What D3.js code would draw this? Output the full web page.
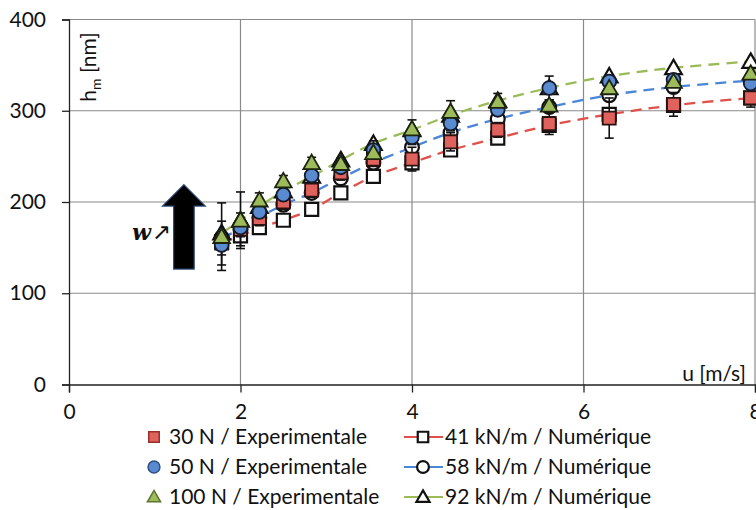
<!DOCTYPE html>
<html>
<head>
<meta charset="utf-8">
<script src="https://cdn.jsdelivr.net/npm/d3@7"></script>
<style>
  html, body { margin: 0; padding: 0; background: #fff; }
  svg { display: block; }
  text { font-family: Lato, "Open Sans", sans-serif; fill: #111; }
</style>
</head>
<body>
<svg id="chart" width="756" height="510"></svg>
<script>
// ---------- data ----------
const uVals   = [1.78, 2.0, 2.22, 2.5, 2.83, 3.17, 3.55, 4.0, 4.45, 5.0, 5.6, 6.3, 7.05, 7.95];

const exp30   = [155, 170, 182, 200, 213, 232, 247, 247, 266, 279, 286, 292, 307, 314];
const err30   = [24, 18, 8, 8, 8, 8, 8, 13, 10, 8, 12, 22, 13, 10];
const exp50   = [153, 172, 189, 208, 229, 238, 257, 271, 286, 301, 325, 332, 334, 330];
const err50   = [11, 10, 6, 6, 6, 6, 6, 8, 8, 6, 13, 6, 6, 6];
const exp100  = [162, 180, 202, 223, 243, 242, 254, 280, 299, 310, 306, 325, 332, 341];
const err100  = [37, 31, 8, 6, 6, 6, 13, 10, 12, 9, 6, 6, 6, 6];

const num41   = [156, 163, 172, 180, 192, 210, 228, 243, 257, 270, 284, 296, 306, 314];
const num58   = [161, 170, 183, 197, 210, 226, 243, 260, 276, 291, 304, 317, 326, 333];
const num92   = [166, 180, 195, 212, 228, 246, 264, 279, 295, 311, 325, 338, 347, 354];

const xTicks  = [0, 2, 4, 6, 8];
const yTicks  = [0, 100, 200, 300, 400];

const expLabels = ["30 N / Experimentale", "50 N / Experimentale", "100 N / Experimentale"];
const numLabels = ["41 kN/m / Numérique", "58 kN/m / Numérique", "92 kN/m / Numérique"];

// ---------- setup ----------
const FS = 21;
const svg = d3.select("#chart");
const x = d3.scaleLinear().domain([0, 8]).range([69, 755]);
const y = d3.scaleLinear().domain([0, 400]).range([384.5, 19.5]);

const colors = {
  red:   { fill: "#E0625D", stroke: "#2a1212", line: "#E0504A", legendStroke: "#9b2f2b" },
  blue:  { fill: "#5A8AD0", stroke: "#141c2c", line: "#4A86D8", legendStroke: "#2d4f82" },
  green: { fill: "#9DBB5A", stroke: "#1c2410", line: "#9BBB59", legendStroke: "#5c7430" }
};

const symSquare = d3.symbol().type(d3.symbolSquare).size(170);
const symCircle = d3.symbol().type(d3.symbolCircle).size(150);
const symTri    = d3.symbol().type(d3.symbolTriangle).size(120);

// ---------- gridlines ----------
const grid = svg.append("g");
grid.selectAll("line.h").data(yTicks.filter(d => d > 0)).join("line")
  .attr("x1", x(0)).attr("x2", x(8))
  .attr("y1", d => y(d)).attr("y2", d => y(d))
  .attr("stroke", "#8a8a8a").attr("stroke-width", 1.2);
grid.selectAll("line.v").data(xTicks.filter(d => d > 0)).join("line")
  .attr("x1", d => x(d)).attr("x2", d => x(d))
  .attr("y1", y(0)).attr("y2", y(400))
  .attr("stroke", "#8a8a8a").attr("stroke-width", 1.2);

// ---------- axes ----------
const xAxis = svg.append("g").attr("transform", `translate(0,${y(0)})`)
  .call(d3.axisBottom(x).tickValues(xTicks).tickSize(8).tickPadding(12).tickFormat(d3.format("d")));
const yAxis = svg.append("g").attr("transform", `translate(${x(0)},0)`)
  .call(d3.axisLeft(y).tickValues(yTicks).tickSize(7).tickPadding(16).tickFormat(d3.format("d")));
[xAxis, yAxis].forEach(a => {
  a.select(".domain").attr("stroke", "#222").attr("stroke-width", 1.3);
  a.selectAll(".tick line").attr("stroke", "#222").attr("stroke-width", 1.3);
  a.selectAll(".tick text").attr("font-size", FS).attr("font-family", "Lato, sans-serif").attr("fill", "#111");
});

// axis titles
svg.append("text").attr("x", 746).attr("y", 381).attr("text-anchor", "end")
  .attr("font-size", FS).text("u [m/s]");
const yt = svg.append("text").attr("transform", `translate(96,67) rotate(-90)`)
  .attr("text-anchor", "middle").attr("font-size", FS);
yt.append("tspan").text("h");
yt.append("tspan").attr("font-size", 14).attr("dy", 5).text("m");
yt.append("tspan").attr("dy", -5).text(" [nm]");

// ---------- arrow annotation ----------
const au = 1.34, aw = 0.12, hw = 0.25;
const arrowPts = [
  [au, 219], [au + hw, 195.5], [au + aw, 195.5], [au + aw, 126.5],
  [au - aw, 126.5], [au - aw, 195.5], [au - hw, 195.5]
];
svg.append("path")
  .attr("d", d3.line().x(d => x(d[0])).y(d => y(d[1]))(arrowPts) + "Z")
  .attr("fill", "#000").attr("stroke", "#2c4a7a").attr("stroke-width", 1.2);
const wt = svg.append("text").attr("x", 132).attr("y", 240).attr("font-size", 22);
wt.append("tspan").attr("font-family", "'DejaVu Serif', serif").attr("font-weight", "bold")
  .attr("font-style", "italic").text("w");
wt.append("tspan").attr("font-family", "'Noto Sans', 'DejaVu Sans', sans-serif").attr("font-size", 23)
  .attr("dx", 1).attr("dy", 0).text("↗");

// ---------- numeric curves ----------
const numSeries = [
  { vals: num41, col: colors.red,   sym: symSquare },
  { vals: num58, col: colors.blue,  sym: symCircle },
  { vals: num92, col: colors.green, sym: symTri }
];
const line = d3.line().x((d, i) => x(uVals[i])).y(d => y(d)).curve(d3.curveCatmullRom.alpha(0.5));
numSeries.forEach(s => {
  svg.append("path").attr("d", line(s.vals)).attr("fill", "none")
    .attr("stroke", s.col.line).attr("stroke-width", 2.3).attr("stroke-dasharray", "11,7");
});
numSeries.forEach(s => {
  svg.append("g").selectAll("path").data(s.vals).join("path")
    .attr("d", s.sym)
    .attr("transform", (d, i) => `translate(${x(uVals[i])},${y(d) + (s.sym === symTri ? 1.5 : 0)})`)
    .attr("fill", "#fff").attr("stroke", "#111").attr("stroke-width", 2.2);
});

// ---------- experimental series ----------
const expSeries = [
  { vals: exp30,  err: err30,  col: colors.red,   sym: symSquare },
  { vals: exp50,  err: err50,  col: colors.blue,  sym: symCircle },
  { vals: exp100, err: err100, col: colors.green, sym: symTri }
];
expSeries.forEach(s => {
  const g = svg.append("g");
  s.vals.forEach((v, i) => {
    const cx = x(uVals[i]);
    const lo = y(v - s.err[i]), hi = y(v + s.err[i]);
    g.append("line").attr("x1", cx).attr("x2", cx).attr("y1", lo).attr("y2", hi)
      .attr("stroke", "#111").attr("stroke-width", 1.6);
    [lo, hi].forEach(yy => g.append("line").attr("x1", cx - 4.5).attr("x2", cx + 4.5)
      .attr("y1", yy).attr("y2", yy).attr("stroke", "#111").attr("stroke-width", 1.6));
  });
});
expSeries.forEach(s => {
  svg.append("g").selectAll("path").data(s.vals).join("path")
    .attr("d", s.sym)
    .attr("transform", (d, i) => `translate(${x(uVals[i])},${y(d) + (s.sym === symTri ? 1.5 : 0)})`)
    .attr("fill", s.col.fill).attr("stroke", s.col.stroke).attr("stroke-width", 1.8);
});

// ---------- legend ----------
const rowsY = [437, 467, 497];
const leg = svg.append("g");
const legSym = [
  d3.symbol().type(d3.symbolSquare).size(110),
  d3.symbol().type(d3.symbolCircle).size(110),
  d3.symbol().type(d3.symbolTriangle).size(75)
];
const legCols = [colors.red, colors.blue, colors.green];
rowsY.forEach((ry, i) => {
  leg.append("path").attr("d", legSym[i]).attr("transform", `translate(154,${ry + (i === 2 ? 1 : 0)})`)
    .attr("fill", legCols[i].fill).attr("stroke", legCols[i].legendStroke).attr("stroke-width", 1.5);
  leg.append("text").attr("x", 169).attr("y", ry).attr("dy", "0.35em")
    .attr("font-size", FS).text(expLabels[i]);
  leg.append("line").attr("x1", 404).attr("x2", 443).attr("y1", ry).attr("y2", ry)
    .attr("stroke", legCols[i].line).attr("stroke-width", 2);
  leg.append("path").attr("d", legSym[i]).attr("transform", `translate(423,${ry + (i === 2 ? 1 : 0)})`)
    .attr("fill", "#fff").attr("stroke", "#111").attr("stroke-width", 2.2);
  leg.append("text").attr("x", 445).attr("y", ry).attr("dy", "0.35em")
    .attr("font-size", FS).text(numLabels[i]);
});
</script>
</body>
</html>
